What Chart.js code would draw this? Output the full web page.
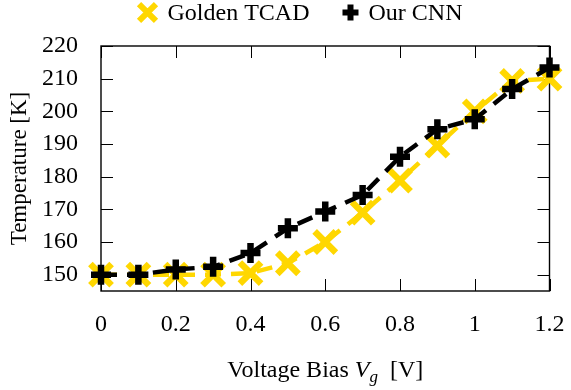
<!DOCTYPE html>
<html>
<head>
<meta charset="utf-8">
<script src="https://cdn.jsdelivr.net/npm/chart.js@4"></script>
<style>
  html, body { margin: 0; padding: 0; background: #ffffff; }
</style>
</head>
<body>
<canvas id="tempChart" width="571" height="390"></canvas>
<script>
const voltage = [0, 0.1, 0.2, 0.3, 0.4, 0.5, 0.6, 0.7, 0.8, 0.9, 1.0, 1.1, 1.2];
const goldenTcad = [150, 150, 150, 150, 150.5, 153.5, 160, 169, 178.8, 189.5, 200, 209.3, 210];
const ourCnn = [150, 150, 151.6, 152.4, 156.6, 164.2, 169.3, 174.4, 186.1, 194.5, 197.6, 206.8, 213.4];

const xTickValues = [0, 0.2, 0.4, 0.6, 0.8, 1.0, 1.2];
const xTickLabels = ['0', '0.2', '0.4', '0.6', '0.8', '1', '1.2'];
const yTickValues = [150, 160, 170, 180, 190, 200, 210, 220];
const yTickLabels = ['150', '160', '170', '180', '190', '200', '210', '220'];

const GOLD = '#ffd700';
const FONT = '"Liberation Serif", "Times New Roman", "DejaVu Serif", serif';
const TICK_LEN = 12;

Chart.defaults.font.family = FONT;
Chart.defaults.color = '#000000';

const toPoints = (xs, ys) => xs.map((x, i) => ({ x, y: ys[i] }));

// inward ticks on all four sides + closed box, like pgfplots
const axisFrame = {
  id: 'axisFrame',
  beforeDatasetsDraw(chart) {
    const { ctx, chartArea: a, scales: { x, y } } = chart;
    ctx.save();
    ctx.strokeStyle = '#000000';
    ctx.lineWidth = 1;
    ctx.beginPath();
    xTickValues.forEach((v) => {
      const px = Math.round(x.getPixelForValue(v)) + 0.5;
      ctx.moveTo(px, a.bottom);
      ctx.lineTo(px, a.bottom - TICK_LEN);
      ctx.moveTo(px, a.top);
      ctx.lineTo(px, a.top + TICK_LEN);
    });
    yTickValues.forEach((v) => {
      const py = Math.round(y.getPixelForValue(v)) + 0.5;
      ctx.moveTo(a.left, py);
      ctx.lineTo(a.left + TICK_LEN, py);
      ctx.moveTo(a.right, py);
      ctx.lineTo(a.right - TICK_LEN, py);
    });
    ctx.stroke();
    ctx.lineWidth = 1.4;
    ctx.strokeRect(a.left, a.top, a.right - a.left, a.bottom - a.top);
    ctx.restore();
  },
};

// x title with italic V and subscript g
const xTitle = {
  id: 'xTitle',
  afterDraw(chart) {
    const { ctx, chartArea: a } = chart;
    const parts = [
      { t: 'Voltage Bias ', f: `24px ${FONT}`, dy: 0 },
      { t: 'V', f: `italic 24px ${FONT}`, dy: 0 },
      { t: 'g', f: `italic 17px ${FONT}`, dy: 5 },
      { t: '  [V]', f: `24px ${FONT}`, dy: 0 },
    ];
    ctx.save();
    ctx.fillStyle = '#000000';
    ctx.textBaseline = 'alphabetic';
    let total = 0;
    parts.forEach((p) => { ctx.font = p.f; p.w = ctx.measureText(p.t).width; total += p.w; });
    let cx = (a.left + a.right) / 2 - total / 2;
    const base = 377;
    parts.forEach((p) => {
      ctx.font = p.f;
      ctx.fillText(p.t, cx, base + p.dy);
      cx += p.w;
    });
    ctx.restore();
  },
};

const drawMarker = (ctx, style, color, cx, cy, r, lw) => {
  ctx.save();
  ctx.strokeStyle = color;
  ctx.lineWidth = lw;
  ctx.beginPath();
  if (style === 'crossRot') {
    const d = r * Math.SQRT1_2;
    ctx.moveTo(cx - d, cy - d); ctx.lineTo(cx + d, cy + d);
    ctx.moveTo(cx - d, cy + d); ctx.lineTo(cx + d, cy - d);
  } else {
    ctx.moveTo(cx - r, cy); ctx.lineTo(cx + r, cy);
    ctx.moveTo(cx, cy - r); ctx.lineTo(cx, cy + r);
  }
  ctx.stroke();
  ctx.restore();
};

// legend drawn by hand so spacing can follow the pgfplots one
const topLegend = {
  id: 'topLegend',
  afterDraw(chart) {
    const { ctx } = chart;
    const sizes = [{ r: 12, w: 20 }, { r: 8, w: 16 }];
    const gap = 10;
    const itemGap = 33;
    ctx.save();
    ctx.font = `24px ${FONT}`;
    const items = chart.data.datasets.map((ds, i) => ({
      label: ds.label,
      style: ds.pointStyle,
      color: ds.pointBorderColor,
      size: sizes[i],
      tw: ctx.measureText(ds.label).width,
    }));
    let total = 0;
    items.forEach((it, i) => { total += it.size.w + gap + it.tw + (i ? itemGap : 0); });
    let cx = 300 - total / 2;
    items.forEach((it, i) => {
      if (i) cx += itemGap;
      drawMarker(ctx, it.style, it.color, cx + it.size.w / 2, 12.5, it.size.r, 6);
      cx += it.size.w + gap;
      ctx.fillStyle = '#000000';
      ctx.textBaseline = 'alphabetic';
      ctx.fillText(it.label, cx, 19.5);
      cx += it.tw;
    });
    ctx.restore();
  },
};

const buildChart = () => {
  const ctx = document.getElementById('tempChart').getContext('2d');
  return new Chart(ctx, {
    type: 'line',
    data: {
      datasets: [
        {
          label: 'Golden TCAD',
          data: toPoints(voltage, goldenTcad),
          borderColor: GOLD,
          borderWidth: 4.5,
          borderDash: [16, 10],
          pointStyle: 'crossRot',
          pointRadius: 15,
          pointBorderWidth: 6.5,
          pointBorderColor: GOLD,
          pointBackgroundColor: GOLD,
          tension: 0,
          clip: false,
          order: 2,
        },
        {
          label: 'Our CNN',
          data: toPoints(voltage, ourCnn),
          borderColor: '#000000',
          borderWidth: 4.5,
          borderDash: [16, 10],
          pointStyle: 'cross',
          pointRadius: 10,
          pointBorderWidth: 6.5,
          pointBorderColor: '#000000',
          pointBackgroundColor: '#000000',
          tension: 0,
          clip: false,
          order: 1,
        },
      ],
    },
    options: {
      responsive: false,
      animation: false,
      events: [],
      layout: { padding: { top: 46, right: 14, bottom: 0, left: 0 } },
      plugins: {
        legend: { display: false },
        tooltip: { enabled: false },
      },
      scales: {
        x: {
          type: 'linear',
          min: 0,
          max: 1.2,
          grid: { display: false },
          border: { display: false },
          afterBuildTicks: (s) => { s.ticks = xTickValues.map((value) => ({ value })); },
          ticks: {
            padding: 11,
            font: { size: 24 },
            maxRotation: 0,
            callback: (v) => xTickLabels[xTickValues.indexOf(v)],
          },
          afterFit: (s) => { s.height = 99; s.paddingLeft = 0; s.paddingRight = 0; },
        },
        y: {
          min: 145,
          max: 220,
          grid: { display: false },
          border: { display: false },
          afterBuildTicks: (s) => { s.ticks = yTickValues.map((value) => ({ value })); },
          ticks: {
            padding: 15,
            font: { size: 24 },
            callback: (v) => yTickLabels[yTickValues.indexOf(v)],
          },
          title: {
            display: true,
            text: 'Temperature [K]',
            font: { size: 23 },
            padding: { top: 6, bottom: 0 },
          },
          afterFit: (s) => { s.width = 101; s.paddingTop = 0; s.paddingBottom = 0; },
        },
      },
    },
    plugins: [axisFrame, xTitle, topLegend],
  });
};

Promise.all([
  document.fonts.load('23px "Liberation Serif"'),
  document.fonts.load('italic 23px "Liberation Serif"'),
]).catch(() => null).then(buildChart);
</script>
</body>
</html>
